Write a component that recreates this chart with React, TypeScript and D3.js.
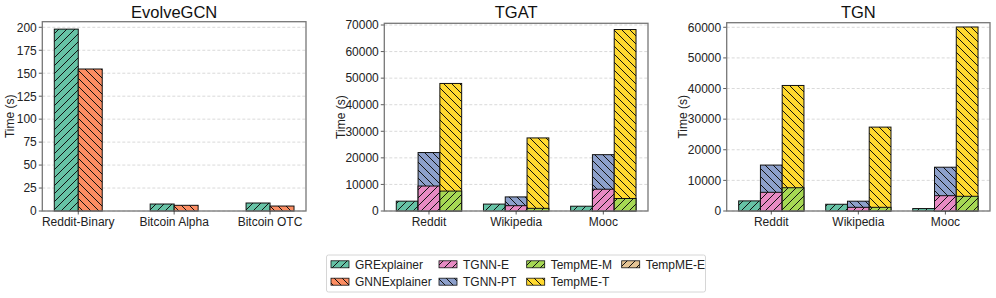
import * as d3 from "d3";
import React from "react";

// values
const evolveCategories = ["Reddit-Binary", "Bitcoin Alpha", "Bitcoin OTC"];
const evolveGRExplainer = [198, 7.6, 8.7];
const evolveGNNExplainer = [154.6, 6.2, 5.4];
const evolveTicks = [0, 25, 50, 75, 100, 125, 150, 175, 200];

const tgCategories = ["Reddit", "Wikipedia", "Mooc"];

const tgatGRExplainer = [3700, 2600, 1800];
const tgatTGNNE = [9400, 2000, 8200];
const tgatTGNNPT = [22000, 5300, 21200];
const tgatTempMEM = [7500, 1000, 4700];
const tgatTempMET = [48000, 27500, 68300];
const tgatTicks = [0, 10000, 20000, 30000, 40000, 50000, 60000, 70000];

const tgnGRExplainer = [3300, 2200, 800];
const tgnTGNNE = [6100, 1200, 5000];
const tgnTGNNPT = [15000, 3200, 14300];
const tgnTempMEM = [7600, 1200, 4800];
const tgnTempMET = [41000, 27400, 60100];
const tgnTicks = [0, 10000, 20000, 30000, 40000, 50000, 60000];

const legendNames = ["GRExplainer", "GNNExplainer", "TGNN-E", "TGNN-PT", "TempME-M", "TempME-T", "TempME-E"];

const colors: Record<string, string> = {
  GRExplainer: "#66c2a5",
  GNNExplainer: "#fc8d62",
  "TGNN-E": "#e78ac3",
  "TGNN-PT": "#8da0cb",
  "TempME-M": "#a6d854",
  "TempME-T": "#ffd92f",
  "TempME-E": "#e5c494",
};
const hatch: Record<string, string> = {
  GRExplainer: "fwd",
  GNNExplainer: "back",
  "TGNN-E": "fwd",
  "TGNN-PT": "back",
  "TempME-M": "fwd",
  "TempME-T": "back",
  "TempME-E": "fwd",
};

const font = "'Liberation Sans', Arial, Helvetica, sans-serif";
const bottom = 211;

type Layer = { name: string; values: number[]; slot: number };

function Panel({ title, left, right, top, yMax, ticks, categories, layers, slots, labelX }: any) {
  const width = 0.25;
  const half = ((slots - 1) * width) / 2;
  const lo = -half - width / 2;
  const hi = categories.length - 1 + half + width / 2;
  const pad = (hi - lo) * 0.05;
  const x = d3.scaleLinear().domain([lo - pad, hi + pad]).range([left, right]);
  const y = d3.scaleLinear().domain([0, yMax]).range([bottom, top]);
  const bw = x(width) - x(0);

  return (
    <g fontFamily={font}>
      {ticks.map((t: number) => (
        <g key={t}>
          <line x1={left} x2={right} y1={y(t)} y2={y(t)} stroke="#cfcfcf" strokeWidth={0.8} strokeDasharray="3,2" />
          <line x1={left - 3.5} x2={left} y1={y(t)} y2={y(t)} stroke="#333" strokeWidth={0.8} />
          <text x={left - 5.5} y={y(t)} dy="0.36em" textAnchor="end" fontSize={12} fill="#222">
            {t}
          </text>
        </g>
      ))}
      {layers.map((l: Layer) =>
        l.values.map((v, i) => {
          const x0 = x(i - half + l.slot * width - width / 2);
          return (
            <g key={l.name + i}>
              <rect x={x0} y={y(v)} width={bw} height={bottom - y(v)} fill={colors[l.name]} />
              <rect
                x={x0}
                y={y(v)}
                width={bw}
                height={bottom - y(v)}
                fill={`url(#${hatch[l.name]})`}
                stroke="#111"
                strokeWidth={1}
              />
            </g>
          );
        })
      )}
      <rect x={left} y={top} width={right - left} height={bottom - top} fill="none" stroke="#777" strokeWidth={1.3} />
      {categories.map((c: string, i: number) => (
        <g key={c}>
          <line x1={x(i)} x2={x(i)} y1={bottom} y2={bottom + 3.5} stroke="#333" strokeWidth={0.8} />
          <text x={x(i)} y={226} textAnchor="middle" fontSize={12} fill="#222">
            {c}
          </text>
        </g>
      ))}
      <text x={(left + right) / 2} y={17.5} textAnchor="middle" fontSize={16.5} fill="#111">
        {title}
      </text>
      <text
        transform={`translate(${labelX},${(top + bottom) / 2}) rotate(-90)`}
        textAnchor="middle"
        dy="0.36em"
        fontSize={12}
        fill="#222"
      >
        Time (s)
      </text>
    </g>
  );
}

function Legend() {
  const cols = [331, 439, 526.7, 621.7];
  const rows = [264.3, 281.7];
  return (
    <g fontFamily={font}>
      <rect x={326.5} y={255} width={379} height={37} rx={2} fill="white" stroke="#d6d6d6" strokeWidth={1} />
      {legendNames.map((n, k) => {
        const c = Math.floor(k / 2);
        const r = k % 2;
        const px = cols[c];
        const py = rows[r];
        return (
          <g key={n}>
            <rect x={px} y={py - 3.5} width={18} height={7} fill={colors[n]} />
            <rect x={px} y={py - 3.5} width={18} height={7} fill={`url(#${hatch[n]})`} stroke="#111" strokeWidth={0.8} />
            <text x={px + 24} y={py} dy="0.36em" fontSize={12} fill="#222">
              {n}
            </text>
          </g>
        );
      })}
    </g>
  );
}

export default function App() {
  const evolveLayers: Layer[] = [
    { name: "GRExplainer", values: evolveGRExplainer, slot: 0 },
    { name: "GNNExplainer", values: evolveGNNExplainer, slot: 1 },
  ];
  const tgatLayers: Layer[] = [
    { name: "GRExplainer", values: tgatGRExplainer, slot: 0 },
    { name: "TGNN-PT", values: tgatTGNNPT, slot: 1 },
    { name: "TGNN-E", values: tgatTGNNE, slot: 1 },
    { name: "TempME-T", values: tgatTempMET, slot: 2 },
    { name: "TempME-M", values: tgatTempMEM, slot: 2 },
  ];
  const tgnLayers: Layer[] = [
    { name: "GRExplainer", values: tgnGRExplainer, slot: 0 },
    { name: "TGNN-PT", values: tgnTGNNPT, slot: 1 },
    { name: "TGNN-E", values: tgnTGNNE, slot: 1 },
    { name: "TempME-T", values: tgnTempMET, slot: 2 },
    { name: "TempME-M", values: tgnTempMEM, slot: 2 },
  ];
  const step = 8;
  return (
    <svg width={996} height={298} style={{ position: "absolute", left: 0, top: 0, background: "white" }}>
      <defs>
        <pattern id="fwd" patternUnits="userSpaceOnUse" width={step} height={step}>
          <path
            d={`M0,${step} L${step},0 M-2,2 L2,-2 M${step - 2},${step + 2} L${step + 2},${step - 2}`}
            stroke="#111"
            strokeWidth={1}
          />
        </pattern>
        <pattern id="back" patternUnits="userSpaceOnUse" width={step} height={step}>
          <path
            d={`M0,0 L${step},${step} M-2,${step - 2} L2,${step + 2} M${step - 2},-2 L${step + 2},2`}
            stroke="#111"
            strokeWidth={1}
          />
        </pattern>
      </defs>
      <rect width={996} height={298} fill="white" />
      <Panel
        title="EvolveGCN"
        left={42.3}
        right={306}
        top={21.7}
        yMax={206.1}
        ticks={evolveTicks}
        categories={evolveCategories}
        layers={evolveLayers}
        slots={2}
        labelX={10}
      />
      <Panel
        title="TGAT"
        left={384.3}
        right={648}
        top={23.3}
        yMax={70640}
        ticks={tgatTicks}
        categories={tgCategories}
        layers={tgatLayers}
        slots={3}
        labelX={341}
      />
      <Panel
        title="TGN"
        left={726.7}
        right={990}
        top={22.7}
        yMax={61500}
        ticks={tgnTicks}
        categories={tgCategories}
        layers={tgnLayers}
        slots={3}
        labelX={683}
      />
      <Legend />
    </svg>
  );
}
